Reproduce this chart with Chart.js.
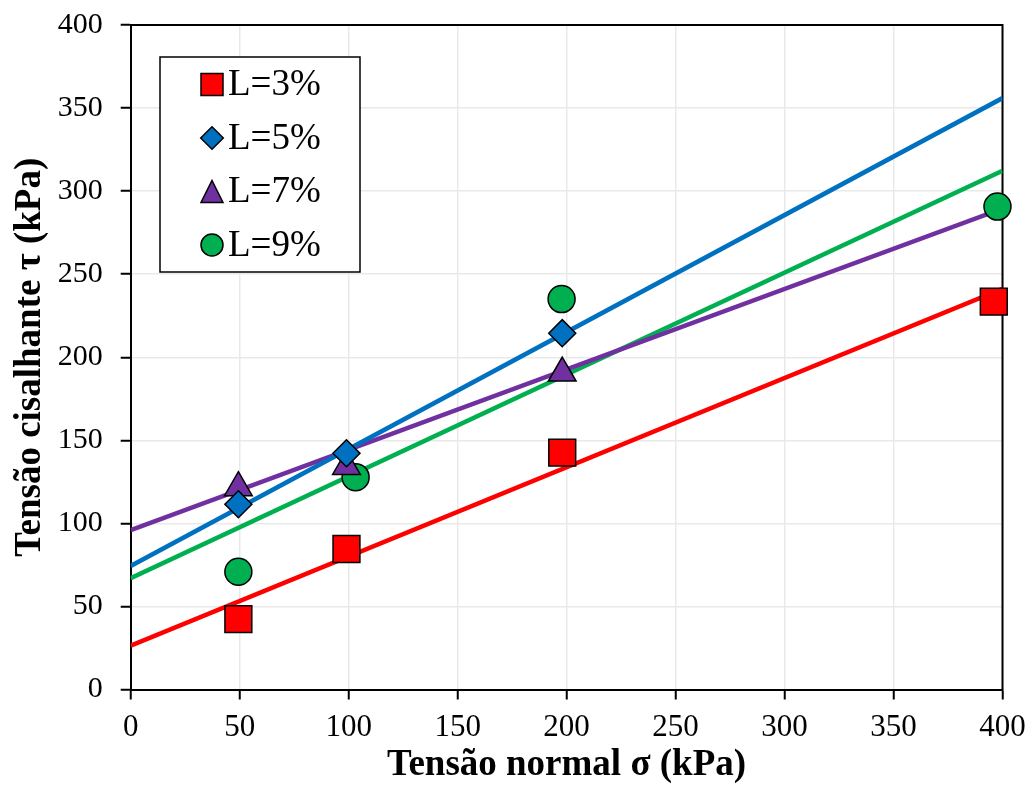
<!DOCTYPE html>
<html>
<head>
<meta charset="utf-8">
<script src="https://cdn.jsdelivr.net/npm/chart.js@4/dist/chart.umd.min.js"></script>
<style>
    html, body { margin: 0; padding: 0; background: #fff; }
    #chart { display: block; }
</style>
</head>
<body>
<canvas id="chart" width="1032" height="796"></canvas>
<script>
// Ensaios de cisalhamento direto - pontos medidos por teor de L
const sigma3 = [49.4, 99, 198, 396];
const tau3 = [42.4, 84.6, 142.6, 233.5];
const sigma5 = [49.4, 99, 198];
const tau5 = [111.5, 142.2, 214.5];
const sigma7 = [49.4, 99, 198];
const tau7 = [121.5, 134.3, 190.5];
const sigma9 = [49.4, 103.2, 197.7, 397.7];
const tau9 = [70.9, 127.8, 235, 290.7];

// Envoltórias (retas de ajuste), extremos em sigma = 0 e 400
const trendSigma = [0, 400];
const trend3 = [26.4, 241.2];
const trend5 = [74.4, 356];
const trend7 = [96, 289.5];
const trend9 = [67, 312.3];

const seriesLabels = ['L=3%', 'L=5%', 'L=7%', 'L=9%'];
const seriesColors = ['#FF0000', '#0070C0', '#7030A0', '#00B050'];
const seriesStyles = ['rect', 'rectRot', 'triangle', 'circle'];
const seriesRadius = [19, 13.5, 16, 13.5];

const xTicks = [0, 50, 100, 150, 200, 250, 300, 350, 400];
const yTicks = [0, 50, 100, 150, 200, 250, 300, 350, 400];

const FONT = "'Liberation Serif', 'Times New Roman', serif";

function toPoints(xs, ys) {
    return xs.map((x, i) => ({ x: x, y: ys[i] }));
}

const pointSets = [
    toPoints(sigma3, tau3),
    toPoints(sigma5, tau5),
    toPoints(sigma7, tau7),
    toPoints(sigma9, tau9)
];
const trendSets = [trend3, trend5, trend7, trend9].map(t => toPoints(trendSigma, t));

const datasets = [];
trendSets.forEach((pts, i) => {
    datasets.push({
        label: seriesLabels[i] + ' ajuste',
        data: pts,
        showLine: true,
        borderColor: seriesColors[i],
        borderWidth: 4.5,
        pointRadius: 0,
        order: 2
    });
});
pointSets.forEach((pts, i) => {
    datasets.push({
        label: seriesLabels[i],
        data: pts,
        showLine: false,
        pointStyle: seriesStyles[i],
        pointRadius: seriesRadius[i],
        pointHoverRadius: seriesRadius[i],
        backgroundColor: seriesColors[i],
        pointBorderColor: '#000',
        pointBorderWidth: 1.5,
        clip: false,
        order: 1
    });
});

// simple marker drawing for the legend box
function drawMarker(ctx, style, x, y, r, fill) {
    ctx.save();
    ctx.beginPath();
    if (style === 'rect') {
        ctx.rect(x - r, y - r, 2 * r, 2 * r);
    } else if (style === 'rectRot') {
        ctx.moveTo(x, y - r);
        ctx.lineTo(x + r, y);
        ctx.lineTo(x, y + r);
        ctx.lineTo(x - r, y);
        ctx.closePath();
    } else if (style === 'triangle') {
        ctx.moveTo(x, y - r);
        ctx.lineTo(x + r, y + r);
        ctx.lineTo(x - r, y + r);
        ctx.closePath();
    } else {
        ctx.arc(x, y, r, 0, Math.PI * 2);
    }
    ctx.fillStyle = fill;
    ctx.fill();
    ctx.lineWidth = 1.5;
    ctx.strokeStyle = '#000';
    ctx.stroke();
    ctx.restore();
}

const legendBox = {
    id: 'legendBox',
    afterDraw(chart) {
        const ctx = chart.ctx;
        const left = 160, top = 57, width = 200, height = 215;
        ctx.save();
        ctx.fillStyle = '#fff';
        ctx.fillRect(left, top, width, height);
        ctx.lineWidth = 1.5;
        ctx.strokeStyle = '#000';
        ctx.strokeRect(left, top, width, height);
        ctx.font = '37px ' + FONT;
        ctx.fillStyle = '#000';
        ctx.textBaseline = 'middle';
        const sizes = [11, 11.3, 11, 11];
        seriesLabels.forEach((lab, i) => {
            const cy = 84.5 + i * 53.5;
            drawMarker(ctx, seriesStyles[i], 212, cy, sizes[i], seriesColors[i]);
            ctx.fillText(lab, 228, cy + 1);
        });
        ctx.restore();
    }
};

// right and top edges of the plot frame
const plotFrame = {
    id: 'plotFrame',
    beforeDatasetsDraw(chart) {
        const { ctx, chartArea } = chart;
        ctx.save();
        ctx.strokeStyle = '#000';
        ctx.lineWidth = 2;
        ctx.beginPath();
        ctx.moveTo(chartArea.left, chartArea.top);
        ctx.lineTo(chartArea.right, chartArea.top);
        ctx.lineTo(chartArea.right, chartArea.bottom);
        ctx.stroke();
        ctx.restore();
    }
};

new Chart(document.getElementById('chart'), {
    type: 'scatter',
    data: { datasets: datasets },
    plugins: [plotFrame, legendBox],
    options: {
        responsive: false,
        animation: false,
        devicePixelRatio: 1,
        layout: { padding: { top: 25, right: 29.5, left: 0, bottom: 0 } },
        plugins: {
            legend: { display: false },
            tooltip: { enabled: false }
        },
        scales: {
            x: {
                type: 'linear',
                min: 0,
                max: 400,
                afterFit: s => {
                    s.height = 106.5;
                    s.paddingLeft = 0;
                    s.paddingRight = 0;
                },
                afterBuildTicks: s => { s.ticks = xTicks.map(v => ({ value: v })); },
                ticks: {
                    color: '#000',
                    font: { family: FONT, size: 31 },
                    padding: 10,
                    maxRotation: 0
                },
                grid: {
                    color: '#e9e9e9',
                    lineWidth: 1.5,
                    tickColor: '#000',
                    tickLength: 10,
                    tickWidth: 2
                },
                border: { color: '#000', width: 2 },
                title: {
                    display: true,
                    text: 'Tensão normal σ (kPa)',
                    color: '#000',
                    font: { family: FONT, size: 37, weight: 'bold' },
                    padding: { top: 0, bottom: 8 }
                }
            },
            y: {
                type: 'linear',
                min: 0,
                max: 400,
                afterFit: s => {
                    s.width = 130.7;
                    s.paddingTop = 0;
                    s.paddingBottom = 0;
                },
                afterBuildTicks: s => { s.ticks = yTicks.map(v => ({ value: v })); },
                ticks: {
                    color: '#000',
                    font: { family: FONT, size: 30 },
                    padding: 18
                },
                grid: {
                    color: '#e9e9e9',
                    lineWidth: 1.5,
                    tickColor: '#000',
                    tickLength: 10,
                    tickWidth: 2
                },
                border: { color: '#000', width: 2 },
                title: {
                    display: true,
                    text: 'Tensão cisalhante τ (kPa)',
                    color: '#000',
                    font: { family: FONT, size: 37, weight: 'bold' },
                    padding: { top: 8, bottom: 0 }
                }
            }
        }
    }
});
</script>
</body>
</html>
